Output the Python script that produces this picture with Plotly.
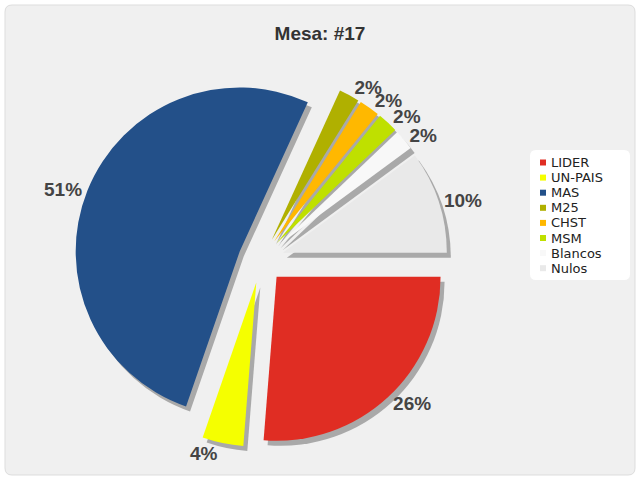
import plotly.graph_objects as go

labels = ["LIDER", "UN-PAIS", "MAS", "M25", "CHST", "MSM", "Blancos", "Nulos"]
values = [26, 4, 51, 2, 2, 2, 2, 10]
colors = ["#e02d23", "#f5ff00", "#235089", "#b0b000", "#ffb800", "#bfe000", "#f8f8f8", "#e9e9e9"]
title_text = "Mesa: #17"

W, H = 640, 480
pull = 0.14
cx, cy, r = 261, 260, 164
half = r * (1 + pull)

def dom(dx=0, dy=0):
    x0 = (cx + dx - half) / W
    x1 = (cx + dx + half) / W
    y0 = 1 - (cy + dy + half) / H
    y1 = 1 - (cy + dy - half) / H
    return dict(x=[x0, x1], y=[y0, y1])

n = len(values)
label_font = dict(family="Liberation Sans", size=19, color="#444444", weight="bold")
# split labels across two layers so that neighbouring tiny slices are not pushed apart
layer_a = ["outside", "outside", "outside", "outside", "none", "outside", "none", "outside"]
layer_b = ["none", "none", "none", "none", "outside", "none", "outside", "none"]

fig = go.Figure()

# shadow
fig.add_trace(go.Pie(
    labels=labels, values=values, sort=False, direction="clockwise", rotation=90,
    pull=[pull] * n, domain=dom(4, 5),
    marker=dict(colors=["#a9a9a9"] * n, line=dict(width=0)),
    textinfo="none", hoverinfo="skip", showlegend=False,
))

fig.add_trace(go.Pie(
    labels=labels, values=values, sort=False, direction="clockwise", rotation=90,
    pull=[pull] * n, domain=dom(),
    marker=dict(colors=colors, line=dict(width=0)),
    texttemplate="%{value}%", textposition=layer_a,
    outsidetextfont=label_font, showlegend=False,
))

fig.add_trace(go.Pie(
    labels=labels, values=values, sort=False, direction="clockwise", rotation=90,
    pull=[pull] * n, domain=dom(),
    marker=dict(colors=["rgba(0,0,0,0)"] * n, line=dict(width=0)),
    texttemplate="%{value}%", textposition=layer_b,
    outsidetextfont=label_font, hoverinfo="skip", showlegend=False,
))

def rounded(x0p, y0p, x1p, y1p, rad):
    x0, x1 = x0p / W, x1p / W
    y0, y1 = 1 - y1p / H, 1 - y0p / H
    rx, ry = rad / W, rad / H
    return (f"M {x0+rx},{y0} L {x1-rx},{y0} Q {x1},{y0} {x1},{y0+ry} "
            f"L {x1},{y1-ry} Q {x1},{y1} {x1-rx},{y1} L {x0+rx},{y1} Q {x0},{y1} {x0},{y1-ry} "
            f"L {x0},{y0+ry} Q {x0},{y0} {x0+rx},{y0} Z")

shapes = [
    dict(type="path", xref="paper", yref="paper", path=rounded(5, 5, 635, 475, 7),
         fillcolor="#f0f0f0", line=dict(color="#dddddd", width=1), layer="below"),
    dict(type="path", xref="paper", yref="paper", path=rounded(530, 150, 630, 280, 6),
         fillcolor="#ffffff", line=dict(width=0), layer="below"),
]
annotations = []
leg_top, leg_step = 162.5, 15.1
for i, (lab, col) in enumerate(zip(labels, colors)):
    yc = leg_top + leg_step * i
    shapes.append(dict(type="rect", xref="paper", yref="paper",
                       x0=540 / W, x1=546 / W, y0=1 - (yc + 3) / H, y1=1 - (yc - 3) / H,
                       fillcolor=col, line=dict(width=0)))
    annotations.append(dict(text=lab, xref="paper", yref="paper", x=549 / W, y=1 - yc / H,
                            xanchor="left", yanchor="middle", showarrow=False,
                            font=dict(family="DejaVu Sans", size=13, color="#222222")))

fig.update_layout(
    width=W, height=H,
    margin=dict(l=0, r=0, t=0, b=0, autoexpand=False),
    paper_bgcolor="white",
    title=dict(text=title_text, x=0.5, xanchor="center", y=1 - 33 / H, yanchor="middle",
               font=dict(family="Liberation Sans", size=19, color="#333333", weight="bold")),
    shapes=shapes,
    annotations=annotations,
    showlegend=False,
)

fig.write_html("out.html",
               config={"displayModeBar": False},
               post_script="document.body.style.margin='0px';document.body.style.overflow='hidden';")
